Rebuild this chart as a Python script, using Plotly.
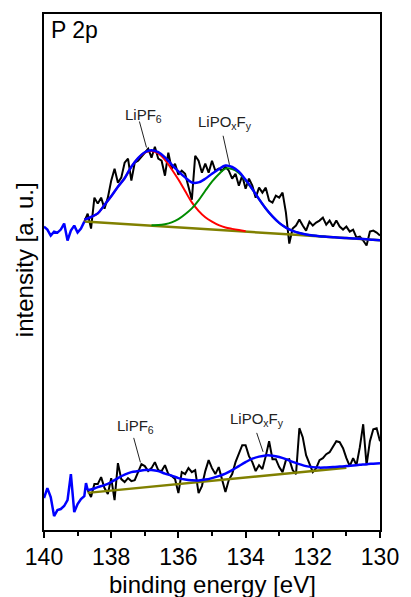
import plotly.graph_objects as go

# ---------------- P 2p spectrum, upper sample ----------------
top_energy = [138.8, 138.7, 138.6, 138.5, 138.4, 138.3, 138.2, 138.1, 138.0,
              137.9, 137.8, 137.7, 137.6, 137.5, 137.4, 137.3, 137.2, 137.1, 137.0,
              136.9, 136.8, 136.7, 136.6, 136.5, 136.4, 136.3, 136.2, 136.1, 136.0,
              135.9, 135.8, 135.7, 135.6, 135.5, 135.4, 135.3, 135.2, 135.1, 135.0,
              134.9, 134.8, 134.7, 134.6, 134.5, 134.4, 134.3, 134.2, 134.1, 134.0,
              133.9, 133.8, 133.7, 133.6, 133.5, 133.4, 133.3, 133.2, 133.1, 133.0,
              132.9, 132.8, 132.7, 132.6, 132.5, 132.4, 132.3, 132.2, 132.1, 132.0,
              131.9, 131.8, 131.7, 131.6, 131.5, 131.4, 131.3, 131.2, 131.1, 131.0,
              130.9, 130.8, 130.7, 130.6, 130.5, 130.4, 130.3, 130.2, 130.1, 130.0]
top_counts = [309, 317, 302, 333, 327, 333, 322, 333, 350,
              362, 348, 353, 368, 372, 350, 368, 370, 374, 377,
              382, 373, 384, 372, 370, 355, 378, 362, 367, 356,
              360, 357, 345, 331, 375, 370, 358, 367, 358, 370,
              360, 362, 360, 364, 360, 352, 357, 345, 355, 342,
              352, 345, 333, 343, 338, 343, 330, 328, 335, 333,
              338, 318, 287, 302, 305, 311, 305, 300, 309, 305,
              308, 310, 313, 306, 310, 304, 310, 304, 301, 304,
              299, 301, 293, 294, 290, 285, 299, 300, 298, 295]

# region outside the fit window (drawn with the envelope colour)
top_edge_energy = [140.0, 139.9, 139.8, 139.7, 139.6, 139.5, 139.4, 139.3, 139.2,
                   139.1, 139.0, 138.9, 138.8]
top_edge_counts = [304, 301, 295, 299, 298, 301, 307, 290, 300, 305, 298, 302, 309]

# fit components on a 0.2 eV grid
fit_energy = [138.8, 138.6, 138.4, 138.2, 138.0, 137.8, 137.6, 137.4, 137.2, 137.0,
              136.8, 136.6, 136.4, 136.2, 136.0, 135.8, 135.6, 135.4, 135.2, 135.0,
              134.8, 134.6, 134.4, 134.2, 134.0, 133.8, 133.6, 133.4, 133.2, 133.0,
              132.8, 132.6, 132.4, 132.2, 132.0, 131.8, 131.6, 131.4, 131.2, 131.0,
              130.8, 130.6, 130.4, 130.2, 130.0]
top_background = [309.0, 308.6, 308.2, 307.7, 307.3, 306.9, 306.5, 306.0, 305.6, 305.2,
                  304.8, 304.3, 303.9, 303.5, 303.1, 302.6, 302.2, 301.8, 301.4, 301.0,
                  300.5, 300.1, 299.7, 299.3, 298.8, 298.4, 298.0, 297.6, 297.2, 296.7,
                  296.3, 295.9, 295.5, 295.0, 294.6, 294.2, 293.8, 293.4, 292.9, 292.5,
                  292.1, 291.7, 291.2, 290.8, 290.4]
peak_lipf6 = [2, 5, 9, 18, 27, 37, 46, 58, 67, 73,
              75, 73, 67, 58, 48, 37, 26, 18, 12, 8,
              5, 3, 2, 1.2, 0.6, 0.3, 0, 0, 0, 0,
              0, 0, 0, 0, 0, 0, 0, 0, 0, 0,
              0, 0, 0, 0, 0]
peak_lipoxfy = [0, 0, 0, 0, 0, 0, 0, 0, 0.1, 0.3,
                0.6, 1.2, 2.5, 4.7, 8.3, 13.7, 20, 28.5, 38.5, 48,
                56, 62, 62, 58.5, 51.5, 43, 33.5, 24.5, 17, 11,
                6.7, 3.8, 2.1, 1.1, 0.5, 0.2, 0.1, 0, 0, 0,
                0, 0, 0, 0, 0]

# ---------------- P 2p spectrum, lower sample ----------------
bot_energy = [138.7, 138.6, 138.5, 138.4, 138.3, 138.2, 138.1, 138.0,
              137.9, 137.8, 137.7, 137.6, 137.5, 137.4, 137.3, 137.2, 137.1, 137.0,
              136.9, 136.8, 136.7, 136.6, 136.5, 136.4, 136.3, 136.2, 136.1, 136.0,
              135.9, 135.8, 135.7, 135.6, 135.5, 135.4, 135.3, 135.2, 135.1, 135.0,
              134.9, 134.8, 134.7, 134.6, 134.5, 134.4, 134.3, 134.2, 134.1, 134.0,
              133.9, 133.8, 133.7, 133.6, 133.5, 133.4, 133.3, 133.2, 133.1, 133.0,
              132.9, 132.8, 132.7, 132.6, 132.5, 132.4, 132.3, 132.2, 132.1, 132.0,
              131.9, 131.8, 131.7, 131.6, 131.5, 131.4, 131.3, 131.2, 131.1, 131.0,
              130.9, 130.8, 130.7, 130.6, 130.5, 130.4, 130.3, 130.2, 130.1, 130.0]
bot_counts = [40, 33, 46, 46, 53, 42, 36, 52,
              30, 67, 51, 48, 52, 49, 50, 59, 66, 64,
              59, 62, 68, 60, 59, 65, 56, 54, 51, 37,
              58, 56, 62, 58, 60, 37, 44, 59, 70, 62,
              56, 63, 50, 38, 50, 56, 68, 77, 85, 85,
              74, 68, 59, 65, 61, 74, 89, 71, 71, 63,
              58, 70, 71, 60, 56, 102, 93, 75, 66, 58,
              62, 70, 72, 76, 78, 84, 89, 88, 82, 72,
              64, 72, 65, 83, 106, 65, 89, 101, 102, 89]

bot_edge_energy = [140.0, 139.9, 139.8, 139.7, 139.6, 139.5, 139.4, 139.3, 139.2,
                   139.1, 139.0, 138.9, 138.8, 138.75, 138.7]
bot_edge_counts = [32, 42, 33, 14, 20, 21, 24, 30, 56, 18, 26, 31, 34, 47, 40]

bot_env_energy = [138.7, 138.6, 138.4, 138.2, 138.0, 137.8, 137.6, 137.4, 137.2, 137.0,
                  136.8, 136.6, 136.4, 136.2, 136.0, 135.8, 135.6, 135.4, 135.2, 135.0,
                  134.8, 134.6, 134.4, 134.2, 134.0, 133.8, 133.6, 133.4, 133.2, 133.0,
                  132.8, 132.6, 132.4, 132.2, 132.0, 131.8, 131.6, 131.4, 131.2, 131.0,
                  130.8, 130.6, 130.4, 130.2, 130.0]
bot_envelope = [40, 40.5, 43, 45, 48, 52, 55.5, 58, 59, 60,
                60, 59, 56.5, 54.5, 52, 50.5, 49.8, 49.7, 50.5, 52,
                54, 56.5, 60, 64, 68, 71.5, 73.5, 74.7, 74.5, 73.2,
                71, 68.2, 66, 64, 63, 62.5, 62.7, 63, 63.5, 64,
                64.7, 65.3, 66, 66.5, 67]
bot_bg_energy = [138.7, 131.0]
bot_background = [37.2, 62.3]

tick_vals = [140, 138, 136, 134, 132, 130]
tick_text = ["140", "138", "136", "134", "132", "130"]
minor_vals = [139, 137, 135, 133, 131]

FONT = "Liberation Sans, Arial, sans-serif"
BLUE = "rgb(0,0,255)"
RED = "rgb(255,0,0)"
GREEN = "rgb(0,140,0)"
OLIVE = "rgb(128,128,0)"

# derived fit curves: component + background, envelope = sum
red_curve = [b + p for b, p in zip(top_background, peak_lipf6)]
green_curve = [b + p for b, p in zip(top_background, peak_lipoxfy)]
top_envelope = [b + p + q for b, p, q in zip(top_background, peak_lipf6, peak_lipoxfy)]

fig = go.Figure()

def line(x, y, color, width, shape="linear"):
    fig.add_trace(go.Scatter(x=x, y=y, mode="lines", showlegend=False, hoverinfo="skip",
                             line=dict(color=color, width=width, shape=shape)))

# upper spectrum
line(top_energy, top_counts, "black", 2)
line(fit_energy, top_background, OLIVE, 2.5)
line(fit_energy[:25], red_curve[:25], RED, 2, "spline")
line(fit_energy[10:37], green_curve[10:37], GREEN, 2, "spline")
line(fit_energy, top_envelope, BLUE, 2.5, "spline")
line(top_edge_energy, top_edge_counts, BLUE, 2.5)

# lower spectrum
line(bot_energy, bot_counts, "black", 2)
line(bot_bg_energy, bot_background, OLIVE, 2.5)
line(bot_env_energy, bot_envelope, BLUE, 2.5, "spline")
line(bot_edge_energy, bot_edge_counts, BLUE, 2.5)

# peak labels with leader lines
labels = [
    ("LiPF<sub>6</sub>", 137.03, 415, (137.16, 409.3, 136.95, 383.3)),
    ("LiPO<sub>x</sub>F<sub>y</sub>", 134.62, 408, (134.67, 395, 134.48, 366)),
    ("LiPF<sub>6</sub>", 137.27, 104, (137.33, 92.3, 137.13, 67.7)),
    ("LiPO<sub>x</sub>F<sub>y</sub>", 133.65, 111, (133.67, 97.3, 133.48, 78.3)),
]
for text, lx, ly, (x0, y0, x1, y1) in labels:
    fig.add_annotation(x=lx, y=ly, xref="x", yref="y", text=text, showarrow=False,
                       font=dict(family=FONT, size=15, color="#222222"),
                       xanchor="center", yanchor="middle")
    fig.add_shape(type="line", xref="x", yref="y", x0=x0, y0=y0, x1=x1, y1=y1,
                  line=dict(color="#222222", width=1))

fig.add_annotation(x=0.0145, y=0.969, xref="paper", yref="paper", text="P 2p",
                   showarrow=False, xanchor="left", yanchor="middle",
                   font=dict(family=FONT, size=23, color="black"))
fig.add_annotation(x=-0.058, y=0.524, xref="paper", yref="paper", text="intensity [a. u.]",
                   showarrow=False, textangle=-90, xanchor="center", yanchor="middle",
                   font=dict(family=FONT, size=24, color="black"))
fig.add_annotation(x=0.5, y=-0.106, xref="paper", yref="paper", text="binding energy [eV]",
                   showarrow=False, xanchor="center", yanchor="middle",
                   font=dict(family=FONT, size=24, color="black"))

fig.update_xaxes(range=[140, 130], autorange=False, tickmode="array",
                 tickvals=tick_vals, ticktext=tick_text,
                 ticks="outside", ticklen=6, tickwidth=1.5, tickcolor="black",
                 minor=dict(tickvals=minor_vals, ticks="outside", ticklen=4,
                            tickwidth=1.5, tickcolor="black"),
                 showline=True, linecolor="black", linewidth=1.5, mirror=True,
                 showgrid=False, zeroline=False,
                 tickfont=dict(family=FONT, size=23, color="black"))
fig.update_yaxes(range=[0, 517], autorange=False, showticklabels=False, ticks="",
                 showline=True, linecolor="black", linewidth=1.5, mirror=True,
                 showgrid=False, zeroline=False)

fig.update_layout(width=411, height=597, margin=dict(l=44, r=23, t=13, b=67),
                  paper_bgcolor="white", plot_bgcolor="white",
                  font=dict(family=FONT, color="black"))

fig.write_html("out.html")
